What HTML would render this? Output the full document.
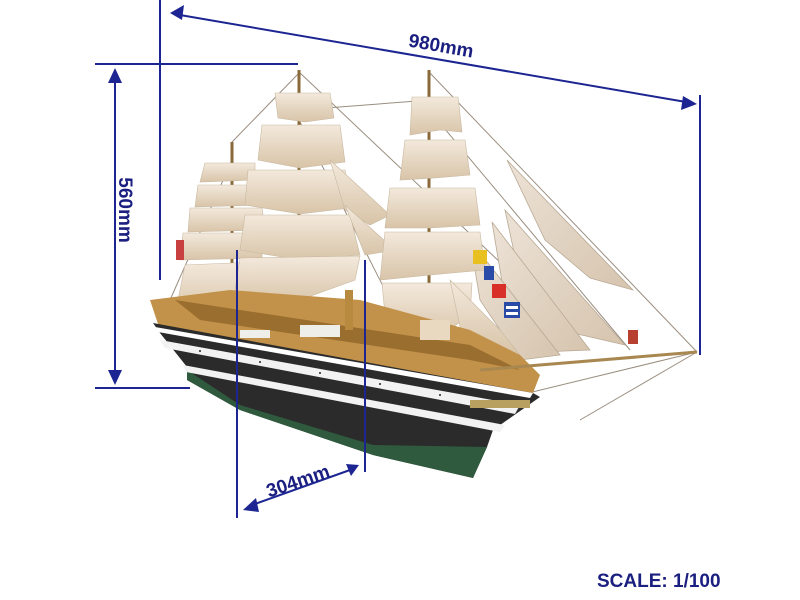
<!DOCTYPE html>
<html><head><meta charset="utf-8"><style>
html,body{margin:0;padding:0;background:#fff;width:800px;height:600px;overflow:hidden}
svg{display:block}
text{font-family:"Liberation Sans",sans-serif;fill:#1a1f80}
</style></head><body>
<svg width="800" height="600" viewBox="0 0 800 600" xmlns="http://www.w3.org/2000/svg">
<defs>
<linearGradient id="sail" x1="0" y1="0" x2="0" y2="1">
<stop offset="0" stop-color="#f3e9dc"/><stop offset="1" stop-color="#d8c4a8"/>
</linearGradient>
<linearGradient id="jib" x1="0" y1="0" x2="1" y2="1">
<stop offset="0" stop-color="#ece2d6"/><stop offset="1" stop-color="#d6c4ae"/>
</linearGradient>
</defs>

<g stroke="#9a8e80" stroke-width="1" fill="none">
<line x1="299" y1="72" x2="540" y2="300"/>
<line x1="429" y1="72" x2="697" y2="352"/>
<line x1="429" y1="110" x2="630" y2="350"/>
<line x1="232" y1="142" x2="300" y2="72"/>
<line x1="300" y1="110" x2="430" y2="100"/>
<line x1="697" y1="352" x2="580" y2="420"/>
<line x1="697" y1="352" x2="520" y2="395"/>
<line x1="299" y1="120" x2="390" y2="300"/>
<line x1="232" y1="160" x2="170" y2="300"/>
</g>

<g fill="url(#jib)" stroke="#b9a994" stroke-width="0.8">
<polygon points="507,160 633,290 590,278 545,240"/>
<polygon points="505,210 625,345 560,330 520,280"/>
<polygon points="492,222 590,350 540,352 505,300"/>
<polygon points="470,240 560,355 520,360 480,300"/>
</g>

<g stroke="#8a6a3a" stroke-width="3">
<line x1="299" y1="70" x2="299" y2="340"/>
<line x1="429" y1="70" x2="429" y2="360"/>
<line x1="232" y1="142" x2="232" y2="330"/>
</g>

<g fill="url(#sail)" stroke="#c8b8a0" stroke-width="0.6">
<path d="M205,163 L255,163 L255,180 L200,182 Z"/>
<path d="M198,185 L258,185 L262,205 L195,207 Z"/>
<path d="M190,208 L262,208 L265,230 L188,232 Z"/>
<path d="M183,233 L262,233 L262,258 L180,260 Z"/>
<path d="M185,265 L255,262 L250,300 L175,315 Z"/>
</g>
<g fill="url(#sail)" stroke="#c8b8a0" stroke-width="0.6">
<path d="M275,93 L330,93 L334,118 L305,122 L278,118 Z"/>
<path d="M262,125 L340,125 L345,162 L300,168 L258,160 Z"/>
<path d="M248,170 L345,170 L350,208 L300,214 L245,205 Z"/>
<path d="M245,215 L350,215 L360,255 L300,260 L240,250 Z"/>
<path d="M240,258 L360,256 L355,280 L300,300 L250,305 L235,290 Z"/>
<path d="M330,160 L390,215 L370,225 L345,210 Z"/>
<path d="M345,205 L395,250 L365,255 Z"/>
</g>
<g fill="url(#sail)" stroke="#c8b8a0" stroke-width="0.6">
<path d="M412,97 L458,97 L462,132 L440,130 L410,135 Z"/>
<path d="M405,140 L465,140 L470,175 L435,178 L400,180 Z"/>
<path d="M390,188 L475,188 L480,225 L430,228 L385,228 Z"/>
<path d="M385,232 L480,232 L485,270 L430,275 L380,280 Z"/>
<path d="M382,283 L472,283 L470,315 L435,340 L410,330 L385,315 Z"/>
<path d="M450,280 L500,330 L520,355 L465,350 Z"/>
</g>

<rect x="473" y="250" width="14" height="14" fill="#e8c020"/>
<rect x="484" y="266" width="10" height="14" fill="#2a4aa8"/>
<rect x="492" y="284" width="14" height="14" fill="#d83028"/>
<rect x="504" y="302" width="16" height="16" fill="#2a4aa8"/>
<rect x="506" y="306" width="12" height="3" fill="#fff"/>
<rect x="506" y="312" width="12" height="3" fill="#fff"/>
<rect x="176" y="240" width="8" height="20" fill="#c84040"/>
<rect x="628" y="330" width="10" height="14" fill="#b84030"/>

<path d="M150,300 L230,290 L360,300 L470,330 L520,355 L540,375 L533,393 L160,330 Z" fill="#c2924a"/>
<path d="M175,300 L470,345 L520,370 L470,360 L200,320 Z" fill="#9a6e2e"/>
<rect x="300" y="325" width="40" height="12" fill="#eeeeea"/>
<rect x="240" y="330" width="30" height="8" fill="#eeeeea"/>
<rect x="345" y="290" width="8" height="40" fill="#b88a40"/>
<rect x="420" y="320" width="30" height="20" fill="#e9d9c0"/>
<line x1="480" y1="370" x2="697" y2="352" stroke="#a88850" stroke-width="3"/>

<path d="M153,323 L533,393 L540,397 L493,430 L487,447 L473,478 L373,455 L240,410 L187,380 L187,367 L160,333 Z" fill="#2b2b2b"/>
<path d="M187,370 L240,405 L373,445 L487,447 L473,478 L373,455 L240,410 L187,380 Z" fill="#2f5a3e"/>
<path d="M155,327 L533,393 L530,398 L158,332 Z" fill="#fff"/>
<path d="M160,340 L520,405 L515,414 L165,348 Z" fill="#f2f2f2"/>
<path d="M183,365 L505,425 L500,432 L186,372 Z" fill="#f2f2f2"/>
<g fill="#222">
<circle cx="200" cy="351" r="1"/><circle cx="260" cy="362" r="1"/><circle cx="320" cy="373" r="1"/><circle cx="380" cy="384" r="1"/><circle cx="440" cy="395" r="1"/>
</g>
<rect x="470" y="400" width="60" height="8" fill="#b8a060"/>

<g stroke="#1c2591" stroke-width="2" fill="none">
<line x1="160" y1="0" x2="160" y2="280"/>
<line x1="95" y1="64" x2="298" y2="64"/>
<line x1="180" y1="15" x2="686" y2="102"/>
<line x1="700" y1="95" x2="700" y2="355"/>
<line x1="115" y1="80" x2="115" y2="375"/>
<line x1="95" y1="388" x2="190" y2="388"/>
<line x1="237" y1="250" x2="237" y2="518"/>
<line x1="365" y1="260" x2="365" y2="472"/>
<line x1="252" y1="505" x2="350" y2="470"/>
</g>
<g fill="#1c2591">
<polygon points="170,13 184,5 182,20"/>
<polygon points="697,104 683,96 681,110"/>
<polygon points="115,68 108,83 122,83"/>
<polygon points="115,385 108,370 122,370"/>
<polygon points="243,510 256,498 259,512"/>
<polygon points="359,465 346,464 351,476"/>
</g>
<text x="440" y="52" font-size="19" font-weight="bold" transform="rotate(10 440 52)" text-anchor="middle">980mm</text>
<text x="124" y="210" font-size="19" font-weight="bold" transform="rotate(90 124 210)" text-anchor="middle" dominant-baseline="middle">560mm</text>
<text x="300" y="487" font-size="19" font-weight="bold" transform="rotate(-19 300 487)" text-anchor="middle">304mm</text>
<text x="597" y="587" font-size="19" font-weight="bold">SCALE: 1/100</text>
</svg>
</body></html>
